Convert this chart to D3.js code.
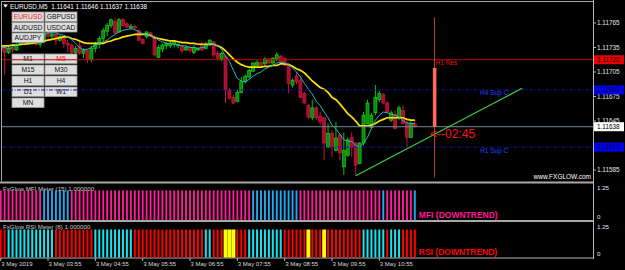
<!DOCTYPE html>
<html><head><meta charset="utf-8">
<script src="https://cdn.jsdelivr.net/npm/d3@7"></script>
<style>
html,body{margin:0;padding:0;background:#000;}
svg{display:block;}
text{font-family:"Liberation Sans",Arial,sans-serif;}
</style></head><body>
<svg id="c" width="625" height="270"></svg>
<script>
// ---------------- DATA ----------------
const symbolTitle = "EURUSD,M5";
const quote = [1.11641, 1.11646, 1.11637, 1.11638];

const opens = [1.11732,1.11735,1.11729,1.11734,1.11732,1.11738,1.11742,1.11739,1.11744,1.11742,
1.11739,1.11742,1.11753,1.11749,1.11751,1.11744,1.11748,1.11740,1.11738,1.11729,
1.11737,1.11728,1.11732,1.11720,1.11734,1.11739,1.11746,1.11755,1.11762,1.11767,
1.11754,1.11769,1.11764,1.11759,1.11761,1.11756,1.11745,1.11748,1.11753,1.11748,
1.11723,1.11733,1.11737,1.11737,1.11739,1.11737,1.11737,1.11732,1.11735,1.11729,
1.11732,1.11739,1.11734,1.11738,1.11742,1.11728,1.11720,1.11724,1.11683,1.11674,
1.11669,1.11680,1.11693,1.11699,1.11706,1.11713,1.11717,1.11715,1.11721,1.11716,
1.11720,1.11724,1.11722,1.11713,1.11689,1.11700,1.11695,1.11679,1.11664,1.11649,
1.11661,1.11651,1.11649,1.11613,1.11630,1.11609,1.11628,1.11589,1.11603,1.11625,
1.11618,1.11593,1.11618,1.11642,1.11637,1.11655,1.11671,1.11677,1.11667,1.11646,
1.11653,1.11649,1.11658,1.11642,1.11625,1.11641];
const highs = [1.11739,1.11738,1.11737,1.11737,1.11740,1.11743,1.11743,1.11745,1.11746,1.11744,
1.11744,1.11756,1.11755,1.11754,1.11753,1.11750,1.11749,1.11744,1.11740,1.11737,
1.11744,1.11734,1.11733,1.11737,1.11742,1.11749,1.11759,1.11765,1.11770,1.11771,
1.11771,1.11771,1.11766,1.11764,1.11762,1.11757,1.11746,1.11755,1.11754,1.11749,
1.11738,1.11740,1.11742,1.11743,1.11744,1.11740,1.11738,1.11737,1.11737,1.11738,
1.11735,1.11742,1.11742,1.11745,1.11743,1.11731,1.11729,1.11726,1.11685,1.11677,
1.11683,1.11699,1.11702,1.11709,1.11717,1.11720,1.11718,1.11723,1.11722,1.11723,
1.11729,1.11726,1.11723,1.11716,1.11697,1.11705,1.11700,1.11680,1.11666,1.11671,
1.11663,1.11656,1.11650,1.11642,1.11634,1.11644,1.11629,1.11631,1.11625,1.11631,
1.11619,1.11619,1.11656,1.11671,1.11655,1.11689,1.11682,1.11679,1.11669,1.11658,
1.11658,1.11664,1.11664,1.11645,1.11645,1.11646];
const lows = [1.11729,1.11702,1.11727,1.11729,1.11731,1.11737,1.11738,1.11738,1.11739,1.11737,
1.11735,1.11740,1.11746,1.11744,1.11738,1.11742,1.11735,1.11729,1.11722,1.11720,
1.11726,1.11722,1.11716,1.11717,1.11729,1.11734,1.11739,1.11749,1.11759,1.11751,
1.11753,1.11760,1.11759,1.11757,1.11756,1.11743,1.11739,1.11746,1.11748,1.11724,
1.11722,1.11729,1.11733,1.11734,1.11735,1.11734,1.11728,1.11731,1.11728,1.11727,
1.11731,1.11731,1.11733,1.11737,1.11723,1.11720,1.11718,1.11667,1.11671,1.11666,
1.11668,1.11679,1.11691,1.11697,1.11705,1.11712,1.11712,1.11713,1.11715,1.11715,
1.11718,1.11715,1.11713,1.11679,1.11686,1.11690,1.11673,1.11666,1.11647,1.11646,
1.11646,1.11640,1.11597,1.11612,1.11601,1.11608,1.11597,1.11579,1.11601,1.11601,
1.11579,1.11592,1.11615,1.11641,1.11635,1.11652,1.11668,1.11666,1.11655,1.11644,
1.11635,1.11646,1.11641,1.11612,1.11624,1.11637];
const closes = [1.11737,1.11729,1.11734,1.11732,1.11738,1.11742,1.11739,1.11744,1.11742,1.11739,
1.11742,1.11754,1.11749,1.11751,1.11744,1.11748,1.11740,1.11738,1.11729,1.11734,
1.11728,1.11732,1.11720,1.11734,1.11739,1.11746,1.11756,1.11762,1.11769,1.11753,
1.11769,1.11762,1.11760,1.11761,1.11759,1.11744,1.11740,1.11754,1.11749,1.11726,
1.11735,1.11738,1.11740,1.11740,1.11742,1.11739,1.11731,1.11735,1.11731,1.11735,
1.11734,1.11732,1.11739,1.11744,1.11726,1.11722,1.11728,1.11683,1.11673,1.11667,
1.11680,1.11693,1.11700,1.11707,1.11716,1.11717,1.11713,1.11721,1.11716,1.11722,
1.11726,1.11717,1.11713,1.11691,1.11695,1.11693,1.11674,1.11667,1.11650,1.11661,
1.11649,1.11644,1.11618,1.11630,1.11613,1.11624,1.11606,1.11609,1.11622,1.11613,
1.11591,1.11618,1.11652,1.11667,1.11652,1.11674,1.11679,1.11667,1.11656,1.11655,
1.11636,1.11661,1.11642,1.11625,1.11642,1.11638];

const maFast = [1.11735,1.11735,1.11734,1.11735,1.11738,1.11740,1.11742,1.11743,1.11745,1.11746,
1.11748,1.11750,1.11753,1.11753,1.11753,1.11751,1.11750,1.11748,1.11745,1.11740,
1.11735,1.11732,1.11733,1.11735,1.11738,1.11740,1.11742,1.11744,1.11748,1.11751,
1.11754,1.11756,1.11757,1.11758,1.11757,1.11754,1.11752,1.11751,1.11750,1.11748,
1.11744,1.11742,1.11740,1.11740,1.11739,1.11738,1.11737,1.11737,1.11735,1.11735,
1.11734,1.11735,1.11736,1.11740,1.11739,1.11737,1.11733,1.11724,1.11718,1.11707,
1.11697,1.11694,1.11693,1.11696,1.11700,1.11703,1.11705,1.11709,1.11711,1.11713,
1.11716,1.11717,1.11716,1.11714,1.11710,1.11705,1.11699,1.11691,1.11684,1.11678,
1.11669,1.11664,1.11656,1.11649,1.11640,1.11635,1.11629,1.11622,1.11620,1.11620,
1.11615,1.11613,1.11618,1.11625,1.11636,1.11646,1.11652,1.11656,1.11655,1.11653,
1.11652,1.11650,1.11645,1.11643,1.11642,1.11642];
const maSlow = [1.11737,1.11737,1.11737,1.11738,1.11738,1.11739,1.11739,1.11740,1.11740,1.11741,
1.11742,1.11743,1.11744,1.11745,1.11746,1.11747,1.11748,1.11748,1.11746,1.11745,
1.11743,1.11741,1.11740,1.11740,1.11740,1.11740,1.11740,1.11742,1.11743,1.11745,
1.11746,1.11748,1.11749,1.11750,1.11751,1.11751,1.11751,1.11751,1.11750,1.11747,
1.11746,1.11745,1.11744,1.11743,1.11743,1.11742,1.11741,1.11741,1.11740,1.11740,
1.11739,1.11739,1.11739,1.11739,1.11739,1.11737,1.11735,1.11731,1.11726,1.11721,
1.11717,1.11714,1.11712,1.11711,1.11711,1.11711,1.11711,1.11712,1.11712,1.11713,
1.11713,1.11715,1.11715,1.11714,1.11712,1.11709,1.11707,1.11704,1.11699,1.11694,
1.11690,1.11686,1.11684,1.11680,1.11674,1.11671,1.11666,1.11660,1.11654,1.11650,
1.11645,1.11639,1.11639,1.11639,1.11640,1.11642,1.11645,1.11647,1.11649,1.11649,
1.11649,1.11649,1.11649,1.11647,1.11646,1.11646];

// meter states per bar: d = down, u = up, f = flat
const mfiStates = ("ddddddddddd" + "uuuuuuu" + "dddddddddd" + "dddddddddd" + "dddddddddd" + "dddddddddd" + "dddddd" +
  "uuuuuuuuuuuu" + "dddddddddd" + "dddddddddd" + "d" + "u" + "ddddddd" + "u").split("");
const rsiStates = ("dd" + "uuuuuuuuuuuu" + "dddddddddd" + "uuuuuuuuuu" + "dddddddddd" + "dddddddd" + "uu" + "ddd" +
  "fff" + "ddd" + "uuuuuuuuu" + "dddddd" + "f" + "ddd" + "f" + "ddddddddd" + "uuuuuu" + "d" + "uuu" + "dddd").split("");
const meterValue = 1.0;

const priceTicks = [1.11765, 1.11735, 1.11705, 1.11675, 1.11645, 1.11585];
const timeTickBars = [0, 12, 24, 36, 48, 60, 72, 84, 96];
const timeTickLabels = ["3 May 2019", "3 May 03:55", "3 May 04:55", "3 May 05:55", "3 May 06:55",
  "3 May 07:55", "3 May 08:55", "3 May 09:55", "3 May 10:55"];

const levels = [
  {name: "H1 Res", price: 1.11720, kind: "res", labelBar: 110},
  {name: "H4 Sup C", price: 1.11683, kind: "sup", labelBar: 121.3},
  {name: "H1 Sup C", price: 1.11613, kind: "sup", labelBar: 121.3}
];
const bidPrice = 1.11638;
const trendPts = [{bar: 90, price: 1.11578}, {bar: 132.2, price: 1.11685}];
const timerBar = 110, timerTop = 1.11772, timerBottom = 1.11576, timerFrom = 1.11638, timerTo = 1.11710;
const timerText = "<--02:45";
const symbolButtons = [["EURUSD", "GBPUSD"], ["AUDUSD", "USDCAD"], ["AUDJPY"]];
const tfButtons = [["M1", "M5"], ["M15", "M30"], ["H1", "H4"], ["D1", "W1"], ["MN"]];
const activeButtons = ["EURUSD", "M5"];
const meterLabels = ["FxGlow MFI Meter (15) 1.000000", "FxGlow RSI Meter (8) 1.000000"];
const meterTrendText = ["MFI (DOWNTREND)", "RSI (DOWNTREND)"];
const meterAxis = [1.25, 0];

// ---------------- DRAW ----------------
const W = 625, H = 270;
const svg = d3.select("#c");
const R = 593; // right edge of plot area
const x = d3.scaleLinear().domain([0, 100]).range([0.7, 395.1]);
const y = d3.scaleLinear().domain([1.11585, 1.11765]).range([170, 23]);
const yMfi = d3.scaleLinear().domain([0, 1.25]).range([220, 183]);
const yRsi = d3.scaleLinear().domain([0, 1.25]).range([257.5, 222.5]);
const fmt = d3.format(".5f");

svg.append("rect").attr("width", W).attr("height", H).attr("fill", "#000");
const defs = svg.append("defs");
defs.append("clipPath").attr("id", "cm").append("rect").attr("x", 1).attr("y", 1).attr("width", R - 1).attr("height", 180);

const main = svg.append("g").attr("clip-path", "url(#cm)");
const idx = d3.range(closes.length);

// candles
const cg = main.append("g");
cg.selectAll("line").data(idx).join("line")
  .attr("x1", i => x(i)).attr("x2", i => x(i))
  .attr("y1", i => y(highs[i])).attr("y2", i => y(lows[i]))
  .attr("stroke", i => closes[i] >= opens[i] ? "#10c010" : "#c8143c").attr("stroke-width", 1);
cg.selectAll("rect").data(idx).join("rect")
  .attr("x", i => x(i) - 1.5).attr("width", 3)
  .attr("y", i => y(Math.max(opens[i], closes[i])))
  .attr("height", i => Math.max(1, Math.abs(y(opens[i]) - y(closes[i]))))
  .attr("fill", i => closes[i] >= opens[i] ? "#0a8a0a" : "#a50f30")
  .attr("stroke", i => closes[i] >= opens[i] ? "#18d018" : "#d0143e").attr("stroke-width", 0.7);

// moving averages
const line = d3.line().x((d, i) => x(i)).y(d => y(d));
main.append("path").datum(maSlow).attr("d", line).attr("fill", "none").attr("stroke", "#ffe000").attr("stroke-width", 1.7);
main.append("path").datum(maFast).attr("d", line).attr("fill", "none").attr("stroke", "#1eb8c4").attr("stroke-width", 1);

// buttons
function drawButtons(rows, top, rowStep, h) {
  rows.forEach((row, r) => row.forEach((label, c) => {
    const bx = 12 + c * 33, by = top + r * rowStep;
    const g = main.append("g");
    g.append("rect").attr("x", bx).attr("y", by).attr("width", 32).attr("height", h)
      .attr("fill", "#dedede").attr("stroke", "#9a9a9a").attr("stroke-width", 0.8);
    g.append("text").attr("x", bx + 16).attr("y", by + h / 2 + 2.4).attr("text-anchor", "middle")
      .attr("font-size", 6.8).attr("fill", activeButtons.includes(label) ? "#ff2020" : "#111").text(label);
  }));
}
drawButtons(symbolButtons, 12, 10.5, 9.5);
drawButtons(tfButtons, 54, 11, 9.5);

// level lines
levels.forEach(l => {
  main.append("line").attr("x1", 1).attr("x2", R).attr("y1", y(l.price)).attr("y2", y(l.price))
    .attr("stroke", l.kind === "res" ? "#c00000" : "#1010a8").attr("stroke-width", 1)
    .attr("stroke-dasharray", l.kind === "res" ? null : "4,1.5,1,1.5");
  main.append("text").attr("x", x(l.labelBar) + 1).attr("y", y(l.price) + 5.5)
    .attr("font-size", 6.5).attr("fill", l.kind === "res" ? "#e01818" : "#2a40ff").text(l.name);
});
// bid line
main.append("line").attr("x1", 1).attr("x2", R).attr("y1", y(bidPrice)).attr("y2", y(bidPrice))
  .attr("stroke", "#7a8898").attr("stroke-width", 1);
// trend line
main.append("line").attr("x1", x(trendPts[0].bar)).attr("y1", y(trendPts[0].price))
  .attr("x2", x(trendPts[1].bar)).attr("y2", y(trendPts[1].price))
  .attr("stroke", "#3cd23c").attr("stroke-width", 1.2);
// candle timer
main.append("line").attr("x1", x(timerBar)).attr("x2", x(timerBar)).attr("y1", y(timerTop)).attr("y2", y(timerBottom))
  .attr("stroke", "#b8442c").attr("stroke-width", 1);
main.append("rect").attr("x", x(timerBar) - 1.7).attr("width", 3.6)
  .attr("y", y(timerTo)).attr("height", y(timerFrom) - y(timerTo)).attr("fill", "#ff6a50");
main.append("text").attr("x", x(timerBar) - 4.5).attr("y", y(timerFrom) + 11)
  .attr("font-family", "DejaVu Sans Mono").attr("font-size", 12).attr("fill", "#ff1010").text(timerText);
main.append("text").attr("x", 591).attr("y", 178.5).attr("text-anchor", "end")
  .attr("font-size", 6.5).attr("fill", "#fff").text("www.FXGLOW.com");

// header
svg.append("path").attr("d", "M3,4.5 L8,4.5 L5.5,7.5 Z").attr("fill", "#fff");
svg.append("text").attr("x", 10).attr("y", 8.8).attr("font-size", 6.4).attr("fill", "#fff")
  .attr("xml:space", "preserve").text(symbolTitle + "  " + quote.map(fmt).join(" "));

// frame
svg.append("line").attr("x1", 1).attr("x2", R).attr("y1", 1.5).attr("y2", 1.5).attr("stroke", "#a8a8a8");
svg.append("line").attr("x1", 1.5).attr("x2", 1.5).attr("y1", 1).attr("y2", 181).attr("stroke", "#a8a8a8");
svg.append("line").attr("x1", R + 0.5).attr("x2", R + 0.5).attr("y1", 0).attr("y2", 259).attr("stroke", "#b4b4b4");
svg.append("rect").attr("x", 0).attr("y", 181.5).attr("width", R).attr("height", 2).attr("fill", "#a8a8a8");
svg.append("rect").attr("x", 0).attr("y", 220).attr("width", R).attr("height", 2).attr("fill", "#a8a8a8");
svg.append("line").attr("x1", 0).attr("x2", R + 1).attr("y1", 258).attr("y2", 258).attr("stroke", "#b4b4b4");

// price axis
const ax = svg.append("g");
priceTicks.forEach(p => {
  ax.append("line").attr("x1", R).attr("x2", R + 3).attr("y1", y(p)).attr("y2", y(p)).attr("stroke", "#b4b4b4");
  ax.append("text").attr("x", 597).attr("y", y(p) + 2.3).attr("font-size", 6.4).attr("fill", "#e6e6e6").text(fmt(p));
});
const boxes = [
  {p: levels[0].price, fill: "#e80000", tc: "#200000"},
  {p: levels[1].price, fill: "#0000f0", tc: "#000030"},
  {p: bidPrice, fill: "#ffffff", tc: "#000"},
  {p: levels[2].price, fill: "#0000f0", tc: "#000030"}
];
boxes.forEach(b => {
  ax.append("rect").attr("x", 594).attr("y", y(b.p) - 4.5).attr("width", 30).attr("height", 9).attr("fill", b.fill);
  ax.append("text").attr("x", 597).attr("y", y(b.p) + 2.3).attr("font-size", 6.4).attr("fill", b.tc).text(fmt(b.p));
});

// meters
const mg = svg.append("g");
mg.selectAll(".mfi").data(idx).join("rect")
  .attr("x", i => x(i) - 0.95).attr("width", 1.9)
  .attr("y", yMfi(meterValue)).attr("height", yMfi(0) - yMfi(meterValue))
  .attr("fill", i => mfiStates[i] === "u" ? "#1eaaf0" : "#ff1a9c");
mg.selectAll(".rsi").data(idx).join("rect")
  .attr("x", i => x(i) - (rsiStates[i] === "f" ? 1.9 : 1)).attr("width", i => rsiStates[i] === "f" ? 3.9 : 2)
  .attr("y", yRsi(meterValue)).attr("height", yRsi(0) - yRsi(meterValue))
  .attr("fill", i => rsiStates[i] === "u" ? "#14e4f0" : rsiStates[i] === "f" ? "#ffff00" : "#ff0000");
[[yMfi, 190.5, 217.7, "#ff1493"], [yRsi, 229, 255.3, "#ff0000"]].forEach((m, k) => {
  mg.append("text").attr("x", 3).attr("y", m[1]).attr("font-size", 6.2).attr("fill", "#c8c8c8").text(meterLabels[k]);
  mg.append("text").attr("x", x(105) + 4).attr("y", m[2]).attr("font-size", 8.5).attr("font-weight", "bold")
    .attr("fill", m[3]).text(meterTrendText[k]);
  mg.append("text").attr("x", 597).attr("y", m[0](meterAxis[0]) + 6.5).attr("font-size", 6.2).attr("fill", "#e6e6e6").text("1.25");
  mg.append("text").attr("x", 597).attr("y", m[0](meterAxis[1]) - 1.2).attr("font-size", 6.2).attr("fill", "#e6e6e6").text("0");
});

// time axis
timeTickBars.forEach((b, k) => {
  svg.append("line").attr("x1", x(b)).attr("x2", x(b)).attr("y1", 258).attr("y2", 261).attr("stroke", "#b4b4b4");
  svg.append("text").attr("x", x(b) + 0.5).attr("y", 266).attr("font-size", 6).attr("fill", "#d8d8d8").text(timeTickLabels[k]);
});
</script>
</body></html>
